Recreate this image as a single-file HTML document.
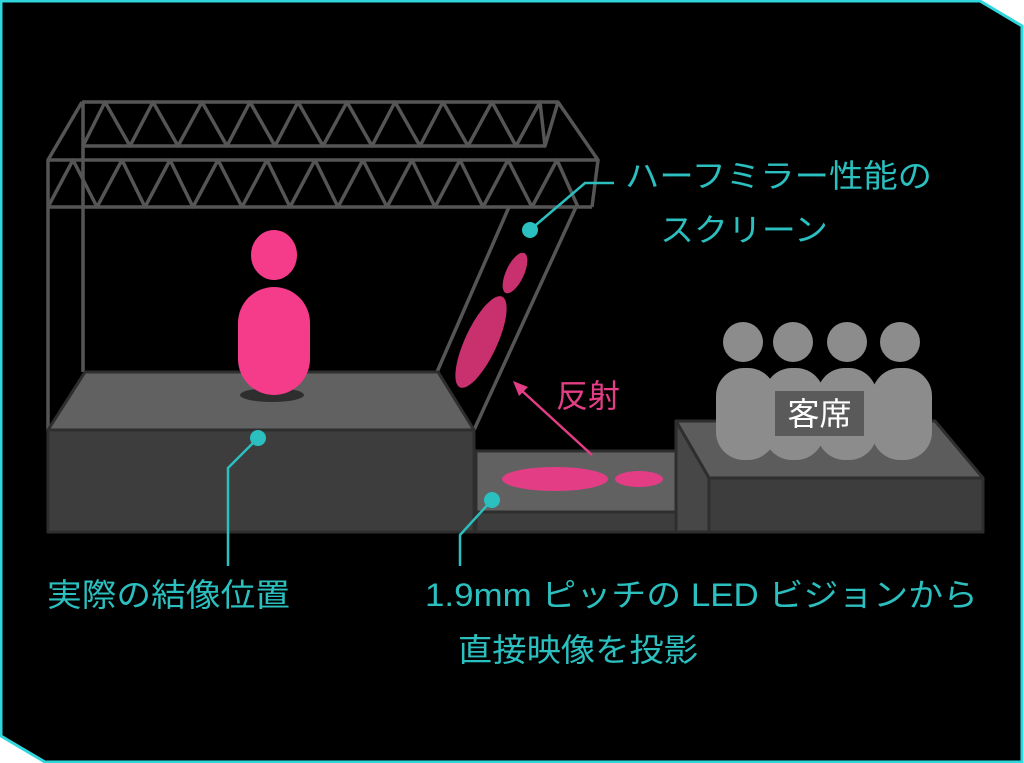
<!DOCTYPE html>
<html><head><meta charset="utf-8"><style>
html,body{margin:0;padding:0;background:#fff;}
svg{display:block;}
text{font-family:"Liberation Sans","Noto Sans CJK JP",sans-serif;}
</style></head><body>
<svg width="1024" height="763" viewBox="0 0 1024 763" xmlns="http://www.w3.org/2000/svg">
<polygon points="1,1 980,1 1022,26 1022,762 45,762 1,736" fill="#000" stroke="#2fd6dc" stroke-width="3"/>

<g fill="none" stroke="#555" stroke-width="3.5" stroke-linejoin="round">
<polyline points="82,102 558,102 598,160 48,160 82,102"/>
<line x1="83" y1="146" x2="545" y2="146"/>
<line x1="48" y1="207" x2="592" y2="207"/>
<line x1="83" y1="102" x2="83" y2="372"/>
<line x1="48" y1="160" x2="48" y2="430"/>
<line x1="598" y1="160" x2="592" y2="207"/>
<polyline points="83,146 105,102 130,146 153,102 178,146 202,102 227,146 250,102 275,146 298,102 323,146 347,102 372,146 395,102 420,146 443,102 468,146 492,102 516,146 540,102 545,146 558,102"/>
<polyline points="48,207 73,160 97,207 122,160 145,207 170,160 193,207 218,160 242,207 267,160 290,207 315,160 338,207 363,160 387,207 412,160 435,207 460,160 483,207 508,160 532,207 557,160 578,207"/>
<line x1="509" y1="207" x2="437" y2="372"/>
<line x1="576" y1="207" x2="474" y2="430"/>
</g>

<ellipse cx="515" cy="273" rx="9" ry="22" transform="rotate(25 515 273)" fill="#c8306e"/>
<ellipse cx="481" cy="342" rx="16" ry="50" transform="rotate(25 481 342)" fill="#c8306e"/>

<g stroke="#2e2e2e" stroke-width="3" stroke-linejoin="round">
<polygon points="85,372 438,372 474,430 48,430" fill="#616161"/>
<rect x="48" y="430" width="426" height="102" fill="#3d3d3d"/>
<polygon points="476,451 676,451 709,512 476,512" fill="#616161"/>
<rect x="476" y="512" width="233" height="20" fill="#3d3d3d"/>
<polygon points="676,421 935,421 983,478 709,478" fill="#5c5c5c"/>
<polygon points="676,421 709,478 709,532 676,532" fill="#474747"/>
<rect x="709" y="478" width="274" height="54" fill="#3d3d3d"/>
</g>

<ellipse cx="272" cy="395" rx="32" ry="7" fill="#2e2e2e"/>
<ellipse cx="274" cy="255" rx="23" ry="25" fill="#f53c8a"/>
<rect x="238" y="287" width="72" height="108" rx="36" fill="#f53c8a"/>

<ellipse cx="555" cy="479" rx="53" ry="12" fill="#e33d86"/>
<ellipse cx="639" cy="479" rx="24" ry="8" fill="#e33d86"/>

<line x1="592" y1="455" x2="520" y2="389" stroke="#e33d86" stroke-width="2.5"/>
<polygon points="513,381 528,387 519,396" fill="#e33d86"/>
<text x="556" y="407" font-size="32" fill="#e33d86">反射</text>

<g fill="#8c8c8c">
<circle cx="743" cy="342" r="20"/><circle cx="793" cy="342" r="20"/><circle cx="847" cy="342" r="20"/><circle cx="900" cy="342" r="20"/>
<rect x="716" y="368" width="60" height="92" rx="28"/>
<rect x="764" y="368" width="60" height="92" rx="28"/>
<rect x="817" y="368" width="60" height="92" rx="28"/>
<rect x="872" y="368" width="60" height="92" rx="28"/>
</g>
<rect x="775" y="391" width="89" height="45" fill="#5a5a5a"/>
<text x="819.5" y="425" font-size="32" fill="#fff" text-anchor="middle">客席</text>

<g stroke="#2bbfbf" stroke-width="2.5" fill="none">
<polyline points="530,230 585,183 614,183"/>
<polyline points="258,438 228,468 228,566"/>
<polyline points="492,500 460,535 460,566"/>
</g>
<g fill="#2bbfbf">
<circle cx="530" cy="230" r="8"/>
<circle cx="258" cy="438" r="8"/>
<circle cx="492" cy="500" r="8"/>
</g>

<g fill="#2bbfbf" font-size="32">
<text x="625" y="187" textLength="307" lengthAdjust="spacingAndGlyphs">ハーフミラー性能の</text>
<text x="660" y="241" textLength="168" lengthAdjust="spacingAndGlyphs">スクリーン</text>
<text x="47" y="606" textLength="243" lengthAdjust="spacingAndGlyphs">実際の結像位置</text>
<text x="425" y="606" textLength="553" lengthAdjust="spacingAndGlyphs">1.9mm ピッチの LED ビジョンから</text>
<text x="458" y="661" textLength="240" lengthAdjust="spacingAndGlyphs">直接映像を投影</text>
</g>
</svg>
</body></html>
